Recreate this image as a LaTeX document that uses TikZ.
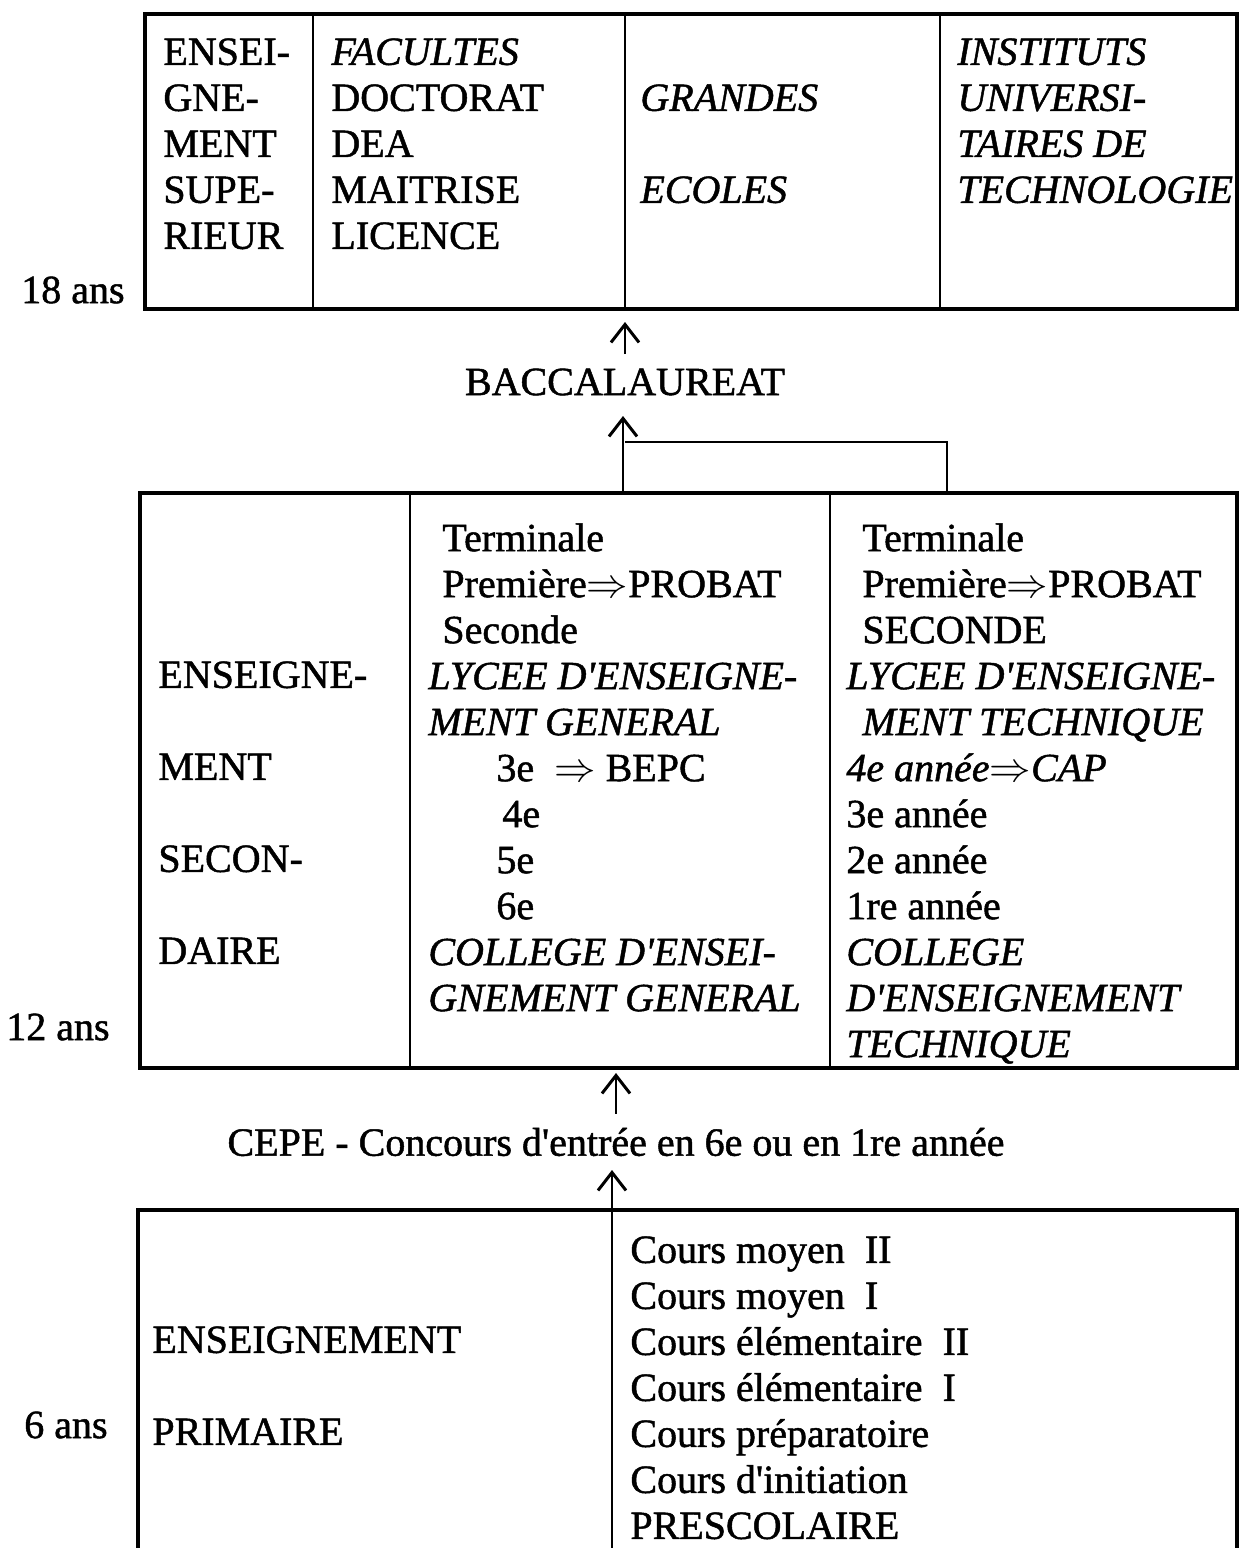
\documentclass[tikz,border=0pt]{standalone}
\usepackage{fontspec}
\setmainfont{Liberation Serif}[FakeBold=1.2]
\usetikzlibrary{arrows.meta}
\newcommand{\q}{\textquotesingle}

\begin{document}
\begin{tikzpicture}[x=0.5pt,y=-0.5pt,
  box/.style={line width=1.6pt},
  sep/.style={line width=1.3pt},
  col/.style={anchor=north west,inner sep=0pt,align=left,font=\fontsize{20}{23}\selectfont},
  lbl/.style={inner sep=0pt,font=\fontsize{20}{23}\selectfont},
  up/.style={line width=1.4pt,-{Straight Barb[length=9pt,width=14pt,line width=1.5pt]}}]
\useasboundingbox (0,0) rectangle (1239,1548);

% superieur
\draw[box] (145,14) rectangle (1237,309);
\draw[sep] (313,14) -- (313,309);
\draw[sep] (625,14) -- (625,309);
\draw[sep] (940,14) -- (940,309);
\node[col] (sup) at (163,38) {ENSEI-\\GNE-\\MENT\\SUPE-\\RIEUR};
\node[col] (fac) at (331,38) {\textit{FACULTES}\\DOCTORAT\\DEA\\MAITRISE\\LICENCE};
\node[col] (ecoles) at (640,84) {\textit{GRANDES}\\[23pt]\textit{ECOLES}};
\node[col] (iut) at (957,38) {\itshape INSTITUTS\\\itshape UNIVERSI-\\\itshape TAIRES DE\\\itshape TECHNOLOGIE};
\node[lbl,anchor=east] (a18) at (125,290) {18 ans};

\node[lbl] (bac) at (625,382) {BACCALAUREAT};
\coordinate (supbot) at (625,322);
\draw[up,shorten <=7pt] (bac.north) -- (supbot);

% secondaire
\draw[box] (140,493) rectangle (1237,1068);
\draw[sep] (410,493) -- (410,1068);
\draw[sep] (830,493) -- (830,1068);
\coordinate (gen) at (623,493);
\coordinate (tec) at (947,493);
\coordinate (bacbot) at (623,416);
\draw[up] (gen) -- (bacbot);
\draw[sep] (tec) -- (947,442) -- (625,442);
\node[col] (sec) at (158,661) {ENSEIGNE-\\[23pt]MENT\\[23pt]SECON-\\[23pt]DAIRE};
\node[col] (lyg) at (428,523) {\hspace*{7pt}Terminale\\
  \hspace*{7pt}Première$\Rightarrow$PROBAT\\
  \hspace*{7pt}Seconde\\
  \textit{LYCEE D\q ENSEIGNE-}\\
  \textit{MENT GENERAL}\\
  \hspace*{34pt}3e \ $\Rightarrow$ BEPC\\
  \hspace*{37pt}4e\\
  \hspace*{34pt}5e\\
  \hspace*{34pt}6e\\
  \textit{COLLEGE D\q ENSEI-}\\
  \textit{GNEMENT GENERAL}};
\node[col] (lyt) at (846,523) {\hspace*{8pt}Terminale\\
  \hspace*{8pt}Première$\Rightarrow$PROBAT\\
  \hspace*{8pt}SECONDE\\
  \textit{LYCEE D\q ENSEIGNE-}\\
  \hspace*{8pt}\textit{MENT TECHNIQUE}\\
  \textit{4e année}$\Rightarrow$\textit{CAP}\\
  3e année\\
  2e année\\
  1re année\\
  \textit{COLLEGE}\\
  \textit{D\q ENSEIGNEMENT}\\
  \textit{TECHNIQUE}};
\node[lbl,anchor=east] (a12) at (110,1027) {12 ans};

\node[lbl] (cepe) at (616,1142) {CEPE - Concours d\q entrée en 6e ou en 1re année};
\coordinate (secbot) at (616,1073);
\draw[up,shorten <=7pt] (cepe.north) -- (secbot);

% primaire
\draw[box] (138,1548) -- (138,1210) -- (1237,1210) -- (1237,1548);
\coordinate (pri) at (612,1548);
\coordinate (cepebot) at (612,1170);
\draw[up] (pri) -- (cepebot);
\node[col] (prim) at (152,1326) {ENSEIGNEMENT\\[23pt]PRIMAIRE};
\node[col] (cours) at (630,1236) {Cours moyen \ II\\
  Cours moyen \ I\\
  Cours élémentaire \ II\\
  Cours élémentaire \ I\\
  Cours préparatoire\\
  Cours d\q initiation\\
  PRESCOLAIRE};
\node[lbl,anchor=east] (a6) at (108,1425) {6 ans};
\end{tikzpicture}
\end{document}
